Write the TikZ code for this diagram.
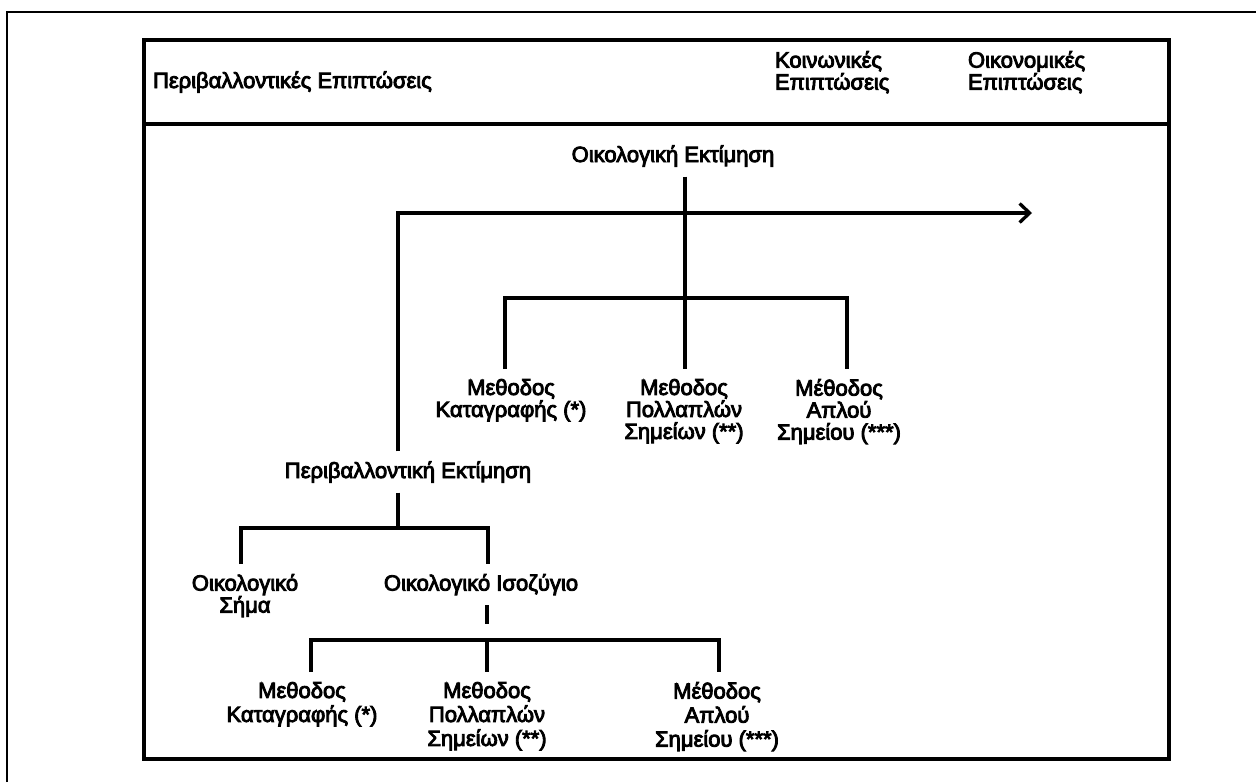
\documentclass[tikz,border=0pt]{standalone}
\usepackage{fontspec}
\setmainfont{Liberation Sans}
\newfontfamily\scanfont{Liberation Sans}[FakeBold=4]
\usetikzlibrary{arrows.meta}
\begin{document}
\begin{tikzpicture}[x=1pt,y=-1pt,
  txt/.style={inner sep=0pt, outer sep=10pt, align=center,
              font=\scanfont\fontsize{22}{22}\selectfont},
  hdr/.style={txt, outer sep=0pt, align=left},
  lowtxt/.style={txt, font=\scanfont\fontsize{22}{24}\selectfont},
  wire/.style={line width=3.3pt, line join=miter},
  frame/.style={line width=3.4pt, line join=miter}]
\useasboundingbox (0,0) rectangle (1256,782);

% thin outer rule
\draw[line width=1.6pt] (7,782) -- (7,12) -- (1256,12);

% main box with header band
\draw[frame] (144,40) rectangle (1169,759);
\draw[frame] (144,124) -- (1169,124);

% header titles
\node[hdr, anchor=west] (hEnv) at (153,82) {Περιβαλλοντικές Επιπτώσεις};
\node[hdr, anchor=north west] (hSoc) at (775,51) {Κοινωνικές\\Επιπτώσεις};
\node[hdr, anchor=north west] (hEco) at (968,51) {Οικονομικές\\Επιπτώσεις};

% ecological assessment with its three methods
\node[txt] (ecol) at (673,156) {Οικολογική Εκτίμηση};
\coordinate (jtop) at (685,298);
\coordinate (bL) at (505,298);
\coordinate (bR) at (847,298);
\node[txt, anchor=north] (m1) at (511,369) {Μεθοδος\\Καταγραφής (*)};
\node[txt, anchor=north] (m2) at (684,369) {Μεθοδος\\Πολλαπλών\\Σημείων (**)};
\node[txt, anchor=north] (m3) at (839,369) {Μέθοδος\\Απλού\\Σημείου (***)};
\draw[wire] (ecol.south -| jtop) -- (jtop);
\draw[wire] (m1.north -| bL) -- (bL) -- (bR) -- (m3.north -| bR);
\draw[wire] (jtop) -- (m2.north -| jtop);

% environmental assessment branch
\node[txt] (penv) at (408,472) {Περιβαλλοντική Εκτίμηση};
\coordinate (corner) at (398,213);
\coordinate (arrowEnd) at (1032,213);
\draw[wire, -{Straight Barb[length=10pt,width=19pt]}]
  (penv.north -| corner) -- (corner) -- (arrowEnd);

\coordinate (jmid) at (398,528);
\coordinate (mL) at (241,528);
\coordinate (mR) at (488,528);
\node[txt, anchor=north] (eS) at (245,564) {Οικολογικό\\Σήμα};
\node[txt, anchor=north] (eI) at (481,564) {Οικολογικό Ισοζύγιο};
\draw[wire] (penv.south -| jmid) -- (jmid);
\draw[wire] (eS.north -| mL) -- (mL) -- (mR) -- (eI.north -| mR);

% ecological balance: a short separate bar, then the three methods
\coordinate (jbot) at (487,640);
\coordinate (barEnd) at (487,624);
\coordinate (cL) at (311,640);
\coordinate (cR) at (719,640);
\draw[line width=4.5pt] (eI.south -| jbot) -- (barEnd);
\node[lowtxt, anchor=north] (n1) at (302,672) {Μεθοδος\\Καταγραφής (*)};
\node[lowtxt, anchor=north] (n2) at (487,672) {Μεθοδος\\Πολλαπλών\\Σημείων (**)};
\node[lowtxt, anchor=north] (n3) at (717,672) {Μέθοδος\\Απλού\\Σημείου (***)};
\draw[wire] (n1.north -| cL) -- (cL) -- (cR) -- (n3.north -| cR);
\draw[wire] (jbot) -- (n2.north -| jbot);
\end{tikzpicture}
\end{document}
